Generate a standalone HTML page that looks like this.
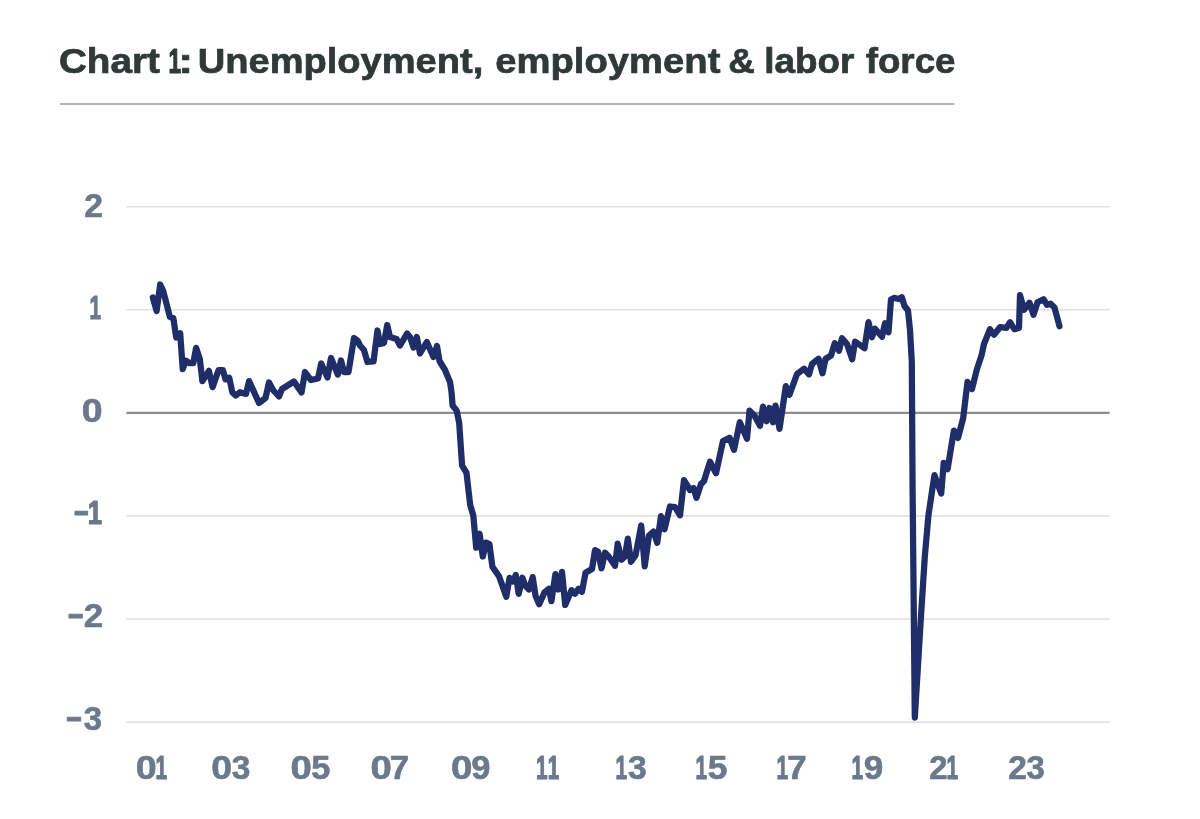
<!DOCTYPE html>
<html lang="en">
<head>
<meta charset="utf-8">
<title>Chart 1: Unemployment, employment &amp; labor force</title>
<style>
  html,body{margin:0;padding:0;background:#fff;}
  body{width:1200px;height:819px;position:relative;overflow:hidden;font-family:"Liberation Sans",sans-serif;}
  svg{position:absolute;left:0;top:0;display:block;}
  text{font-family:"Liberation Sans",sans-serif;font-weight:700;white-space:pre;}
  .title{font-size:35px;fill:#2f3938;stroke:#2f3938;stroke-width:0.7px;stroke-linejoin:round;}
  .lab text{font-size:32.8px;fill:#6a798b;stroke:#6a798b;stroke-width:0.6px;stroke-linejoin:round;}
</style>
</head>
<body>
<svg width="1200" height="819" viewBox="0 0 1200 819" role="img" aria-label="Chart 1: Unemployment, employment &amp; labor force">
<text class="title" y="73.2"><tspan x="58.95" textLength="100.98" lengthAdjust="spacingAndGlyphs">Chart</tspan> <tspan x="168.53" textLength="12.56" lengthAdjust="spacingAndGlyphs" stroke="#2f3938" stroke-width="1.2" stroke-linejoin="round">1</tspan><tspan x="178.26" textLength="14.87" lengthAdjust="spacingAndGlyphs">:</tspan> <tspan x="197.72" textLength="285.55" lengthAdjust="spacingAndGlyphs">Unemployment,</tspan> <tspan x="495.22" textLength="225.17" lengthAdjust="spacingAndGlyphs">employment</tspan> <tspan x="728.34" textLength="26.59" lengthAdjust="spacingAndGlyphs">&amp;</tspan> <tspan x="764.17" textLength="90.13" lengthAdjust="spacingAndGlyphs">labor</tspan> <tspan x="865.70" textLength="89.85" lengthAdjust="spacingAndGlyphs">force</tspan></text>
<rect x="60" y="103" width="894.3" height="2" fill="#b4b5b6"/>
<g stroke="#e0e1e3" stroke-width="1.6">
<line x1="126.4" y1="206.70" x2="1109.6" y2="206.70"/>
<line x1="126.4" y1="309.75" x2="1109.6" y2="309.75"/>
<line x1="126.4" y1="515.90" x2="1109.6" y2="515.90"/>
<line x1="126.4" y1="619.00" x2="1109.6" y2="619.00"/>
<line x1="126.4" y1="722.10" x2="1109.6" y2="722.10"/>
</g>
<line x1="126.4" y1="412.80" x2="1109.6" y2="412.80" stroke="#8c8d8f" stroke-width="2.2"/>
<g class="lab">
<text y="216.70"><tspan x="84.22" textLength="18.77" lengthAdjust="spacingAndGlyphs">2</tspan></text>
<text y="319.28"><tspan x="89.57" textLength="11.47" lengthAdjust="spacingAndGlyphs" stroke="#6a798b" stroke-width="1.2" stroke-linejoin="round">1</tspan></text>
<text y="421.86"><tspan x="81.80" textLength="20.84" lengthAdjust="spacingAndGlyphs">0</tspan></text>
<text y="524.44"><tspan x="73.78" textLength="14.95" lengthAdjust="spacingAndGlyphs" stroke="#6a798b" stroke-width="1.0">−</tspan><tspan x="87.81" textLength="14.27" lengthAdjust="spacingAndGlyphs" stroke="#6a798b" stroke-width="1.2" stroke-linejoin="round">1</tspan></text>
<text y="627.02"><tspan x="67.63" textLength="15.65" lengthAdjust="spacingAndGlyphs" stroke="#6a798b" stroke-width="1.0">−</tspan><tspan x="83.88" textLength="19.47" lengthAdjust="spacingAndGlyphs">2</tspan></text>
<text y="729.60"><tspan x="66.02" textLength="15.77" lengthAdjust="spacingAndGlyphs" stroke="#6a798b" stroke-width="1.0">−</tspan><tspan x="83.78" textLength="18.31" lengthAdjust="spacingAndGlyphs">3</tspan></text>
<text y="779.20"><tspan x="135.89" textLength="20.96" lengthAdjust="spacingAndGlyphs">0</tspan><tspan x="155.45" textLength="11.59" lengthAdjust="spacingAndGlyphs" stroke="#6a798b" stroke-width="1.2" stroke-linejoin="round">1</tspan></text>
<text y="779.20"><tspan x="211.30" textLength="20.84" lengthAdjust="spacingAndGlyphs">0</tspan><tspan x="231.76" textLength="18.65" lengthAdjust="spacingAndGlyphs">3</tspan></text>
<text y="779.20"><tspan x="290.47" textLength="21.31" lengthAdjust="spacingAndGlyphs">0</tspan><tspan x="311.27" textLength="19.13" lengthAdjust="spacingAndGlyphs">5</tspan></text>
<text y="779.20"><tspan x="370.47" textLength="21.31" lengthAdjust="spacingAndGlyphs">0</tspan><tspan x="389.73" textLength="19.38" lengthAdjust="spacingAndGlyphs">7</tspan></text>
<text y="779.20"><tspan x="450.96" textLength="21.43" lengthAdjust="spacingAndGlyphs">0</tspan><tspan x="471.39" textLength="19.15" lengthAdjust="spacingAndGlyphs">9</tspan></text>
<text y="779.20"><tspan x="536.05" textLength="11.59" lengthAdjust="spacingAndGlyphs" stroke="#6a798b" stroke-width="1.2" stroke-linejoin="round">1</tspan><tspan x="547.77" textLength="11.47" lengthAdjust="spacingAndGlyphs" stroke="#6a798b" stroke-width="1.2" stroke-linejoin="round">1</tspan></text>
<text y="779.20"><tspan x="615.57" textLength="11.47" lengthAdjust="spacingAndGlyphs" stroke="#6a798b" stroke-width="1.2" stroke-linejoin="round">1</tspan><tspan x="627.96" textLength="18.76" lengthAdjust="spacingAndGlyphs">3</tspan></text>
<text y="779.20"><tspan x="695.57" textLength="11.47" lengthAdjust="spacingAndGlyphs" stroke="#6a798b" stroke-width="1.2" stroke-linejoin="round">1</tspan><tspan x="707.74" textLength="19.69" lengthAdjust="spacingAndGlyphs">5</tspan></text>
<text y="779.20"><tspan x="776.55" textLength="11.59" lengthAdjust="spacingAndGlyphs" stroke="#6a798b" stroke-width="1.2" stroke-linejoin="round">1</tspan><tspan x="787.23" textLength="19.38" lengthAdjust="spacingAndGlyphs">7</tspan></text>
<text y="779.20"><tspan x="851.55" textLength="11.59" lengthAdjust="spacingAndGlyphs" stroke="#6a798b" stroke-width="1.2" stroke-linejoin="round">1</tspan><tspan x="863.77" textLength="19.49" lengthAdjust="spacingAndGlyphs">9</tspan></text>
<text y="779.20"><tspan x="929.35" textLength="18.31" lengthAdjust="spacingAndGlyphs">2</tspan><tspan x="946.55" textLength="11.59" lengthAdjust="spacingAndGlyphs" stroke="#6a798b" stroke-width="1.2" stroke-linejoin="round">1</tspan></text>
<text y="779.20"><tspan x="1008.33" textLength="18.65" lengthAdjust="spacingAndGlyphs">2</tspan><tspan x="1026.38" textLength="18.31" lengthAdjust="spacingAndGlyphs">3</tspan></text>
</g>
<polyline id="series" fill="none" stroke="#1f2d69" stroke-width="6.25" stroke-linejoin="round" stroke-linecap="round" points="152.8,297.4 156.6,311 160.2,284.5 163.1,290.5 169.9,317 173.3,317.9 176.2,337.5 180.2,333.2 182.7,369.1 185.8,360.6 189.6,363.2 193.3,363.2 196.1,347.8 199.8,358.9 202.4,381.1 208.9,370.9 212.6,387.1 218.6,370 222.9,370 225.5,379.4 229.2,377.7 232.3,392.2 235.7,395.6 240,392.2 246,393.9 249.1,381.1 259,403 265.5,398 269,382.5 273,390 279,396.5 282,389 294,381.5 301.5,392.5 305,372 311,380 318,378.5 321.2,363.5 327.5,377.5 331,358 337.8,374.5 341,360.5 344,372 348.5,372 354,338 357.5,340.5 360,345.5 364,350 367.5,362 373.5,361.5 377.5,330.5 380,344 384,343 387.2,325 390,337 396.5,339 400,345.5 407,333.5 410,337 413.5,347.5 416.8,337 420,353.5 426.8,342 433.5,357 437,346 439.5,361 445,370 450,382 451.5,391.9 452.6,405.5 456.7,410.6 459.2,423.1 462.1,465.6 466.5,472.9 470.2,505 473.3,515.5 476.2,547.7 479.6,533.8 482.8,556.5 486.1,542.6 489.4,544.1 492.4,566.8 499,576.3 506.3,596.8 509.5,577.8 512.9,581.4 515.8,574.9 518.7,593.9 522.4,577.8 525.3,585.8 529,589.5 532.7,577.1 535.6,596.1 539.2,604.2 544.4,592.4 548.8,588.8 551.4,601.2 555.4,574.1 558.3,589.5 562,571.9 565.2,604.9 571.5,590.2 575,593.8 578.5,588.7 582,591.8 585.5,572.7 592,569 595,550.2 598,551.5 601.5,568.3 605,552.7 609,557 615,565.8 617.7,543.7 621.5,559.8 625,556.5 627.8,538.7 631,561.8 635.5,555.5 641.2,525.5 644.7,566.3 649,535.5 653.5,531.5 657.2,542.8 661,516.2 664.5,529.3 670,506.5 675,507 680,515.3 684,480.2 690,490 693.5,488 696.5,497.8 701,484 704,481 710,461.7 716,473.3 723,441 729.5,437.7 734,449.8 739.8,422.2 747,438.8 749.5,410.7 755,416.5 760,425.8 763,406.7 766.5,421.3 769.5,408 773,422.3 775.5,405.7 779.5,428.8 785.8,386.2 789.5,394.8 797,374 804,368.7 809,374.3 812,364 818.5,358.7 822.5,373.3 825.5,359 831,355.5 834.8,343.2 839,350.8 842,338.2 847,344 852.2,359.3 855,341.7 860,345 864.5,348.3 868.5,322.2 872,337.3 875,328.7 882,336.8 885,323.2 888.5,332.3 891,299.5 894,297.9 899,299 901.8,297.2 904.5,306 908,310.5 910,330 911.8,361.9 912.6,490 914.8,717.5 918.1,663.5 920.8,619 924.8,556.7 928.4,515.8 932.2,490 934.5,475.2 941.2,493.5 943.7,462.9 947.6,469.1 953.9,430.6 958,437.9 963.2,418.1 967.5,381.8 972,389 976.9,369.3 981.5,355.6 984,344 990,329.2 994,334.8 1000,327.2 1006.5,327.8 1010,322.2 1014.5,329.3 1019,328 1020,295.2 1024,309.8 1029.5,302.7 1033.5,314.8 1037.5,302.2 1043.5,299.2 1047,304.8 1050.5,303.7 1054.5,307.5 1059.5,326.2"/>
</svg>
</body>
</html>
